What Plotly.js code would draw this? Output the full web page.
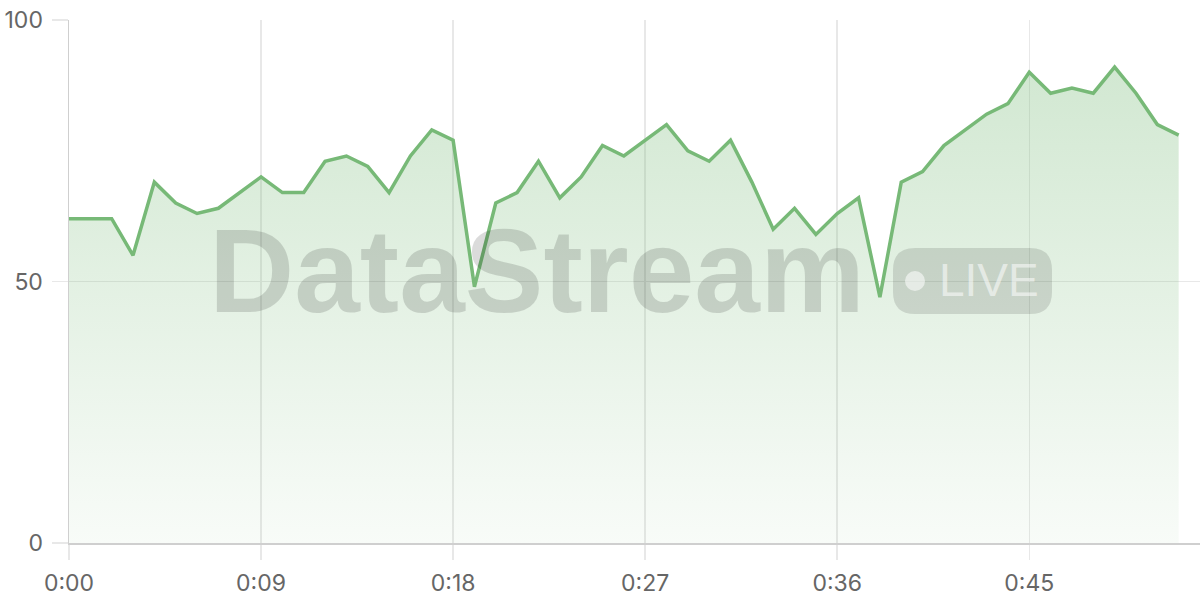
<!DOCTYPE html>
<html>
<head>
<meta charset="utf-8">
<script src="https://cdn.plot.ly/plotly-3.0.1.min.js"></script>
<style>html,body{margin:0;padding:0;background:#fff;}#chart{width:1200px;height:600px;}</style>
</head>
<body>
<div id="chart"></div>
<script>
// Data: one reading per second
const seconds = [0,1,2,3,4,5,6,7,8,9,10,11,12,13,14,15,16,17,18,19,20,21,22,23,24,25,26,27,28,29,30,31,32,33,34,35,36,37,38,39,40,41,42,43,44,45,46,47,48,49,50,51,52];
const values  = [62,62,62,55,69,65,63,64,67,70,67,67,73,74,72,67,74,79,77,49,65,67,73,66,70,76,74,77,80,75,73,77,69,60,64,59,63,66,47,69,71,76,79,82,84,90,86,87,86,91,86,80,78];
const xTickVals = [0,9,18,27,36,45];
const xTickText = ['0:00','0:09','0:18','0:27','0:36','0:45'];
const yTickVals = [0,50,100];
const watermarkText = 'DataStream';
const badgeText = 'LIVE';

const W = 1200, H = 600;
const M = {l: 69, r: 0, t: 20, b: 57};
const pw = W - M.l - M.r, ph = H - M.t - M.b;
// pixel -> paper helpers for decorations
const px = x => (x - M.l) / pw;
const py = y => (H - M.b - y) / ph;

function roundRectPath(x0, y0, x1, y1, r) {
  const rx = r / pw, ry = r / ph;
  const X0 = px(x0), X1 = px(x1), Y0 = py(y1), Y1 = py(y0);
  return `M ${X0+rx},${Y0} L ${X1-rx},${Y0} Q ${X1},${Y0} ${X1},${Y0+ry} L ${X1},${Y1-ry} Q ${X1},${Y1} ${X1-rx},${Y1} L ${X0+rx},${Y1} Q ${X0},${Y1} ${X0},${Y1-ry} L ${X0},${Y0+ry} Q ${X0},${Y0} ${X0+rx},${Y0} Z`;
}

const trace = {
  x: seconds,
  y: values,
  type: 'scatter',
  mode: 'lines',
  line: {color: '#77b977', width: 3.5},
  fill: 'tozeroy',
  fillgradient: {
    type: 'vertical',
    start: 0,
    stop: 100,
    colorscale: [[0, 'rgba(118,185,118,0.05)'], [1, 'rgba(118,185,118,0.36)']]
  },
  hoverinfo: 'skip'
};

const tickFont = {family: 'Inter, "Liberation Sans", sans-serif', size: 23, color: '#666'};

const layout = {
  width: W, height: H,
  margin: M,
  paper_bgcolor: '#fff',
  plot_bgcolor: '#fff',
  showlegend: false,
  xaxis: {
    range: [0, 53],
    tickvals: xTickVals,
    ticktext: xTickText,
    showgrid: true,
    gridcolor: '#e8e8e8',
    gridwidth: 1.5,
    zeroline: false,
    showline: true,
    linecolor: '#cfcfcf',
    linewidth: 1.5,
    ticks: 'outside',
    ticklen: 15,
    tickcolor: '#e8e8e8',
    tickwidth: 1.5,
    ticklabelstandoff: 4,
    tickfont: tickFont,
    fixedrange: true
  },
  yaxis: {
    range: [0, 100],
    tickvals: yTickVals,
    showgrid: true,
    gridcolor: '#e8e8e8',
    gridwidth: 1.5,
    zeroline: false,
    showline: true,
    linecolor: '#cfcfcf',
    linewidth: 1.5,
    ticks: 'outside',
    ticklen: 16,
    tickcolor: '#e8e8e8',
    tickwidth: 1.5,
    ticklabelstandoff: 4,
    tickfont: tickFont,
    fixedrange: true
  },
  shapes: [
    {type: 'path', xref: 'paper', yref: 'paper', path: roundRectPath(893, 248, 1052, 314, 22),
     fillcolor: 'rgba(0,0,0,0.12)', line: {width: 0}, layer: 'above'},
    {type: 'circle', xref: 'paper', yref: 'paper', x0: px(905), x1: px(925), y0: py(291), y1: py(271),
     fillcolor: 'rgba(255,255,255,0.55)', line: {width: 0}, layer: 'above'}
  ],
  annotations: [
    {xref: 'paper', yref: 'paper', x: px(207), y: py(271), xanchor: 'left', yanchor: 'middle',
     text: '<b>' + watermarkText + '</b>', showarrow: false,
     font: {family: '"Liberation Sans", Arial, sans-serif', size: 118, color: 'rgba(0,0,0,0.14)'}},
    {xref: 'paper', yref: 'paper', x: px(937), y: py(280), xanchor: 'left', yanchor: 'middle',
     text: badgeText, showarrow: false,
     font: {family: '"Liberation Sans", Arial, sans-serif', size: 46, color: 'rgba(255,255,255,0.55)'}}
  ]
};

Plotly.newPlot('chart', [trace], layout, {displayModeBar: false, staticPlot: true});
</script>
</body>
</html>
